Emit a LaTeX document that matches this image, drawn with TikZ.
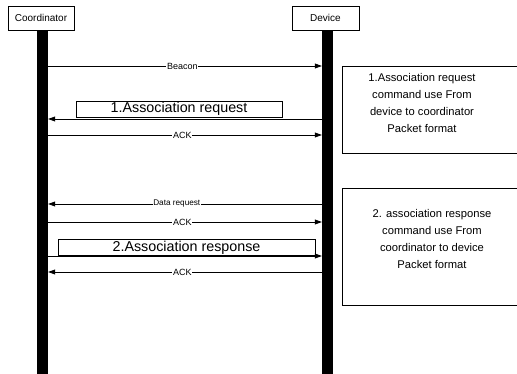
\documentclass[tikz,border=0pt]{standalone}
\usepackage{fontspec}
\setmainfont{Liberation Sans}
\usetikzlibrary{arrows.meta}
\begin{document}
\begin{tikzpicture}[x=1pt,y=-1pt,
  actor/.style={draw,line width=0.9pt,minimum height=24pt,inner sep=0pt,font=\fontsize{10}{11}\selectfont},
  lifebar/.style={fill=black,draw=none,minimum width=11pt,minimum height=344pt,inner sep=0pt,anchor=north},
  msg/.style={line width=0.7pt,-{Triangle[length=7pt,width=5pt]}},
  lbl/.style={fill=white,inner sep=0.6pt,font=\fontsize{9}{10}\selectfont},
  cmdbox/.style={draw,line width=0.8pt,inner sep=0pt,minimum height=16pt,font=\fontsize{14.3}{15}\selectfont},
  note/.style={draw,line width=0.9pt},
  notetext/.style={align=center,font=\fontsize{11.2}{17}\selectfont}]
\useasboundingbox (0,0) rectangle (517,374);
% actors
\node[actor,minimum width=66pt] (coord) at (41,18) {Coordinator};
\node[actor,minimum width=67pt] (dev) at (325.5,18) {Device};
% lifelines
\node[lifebar] (cl) at (42.5,30) {};
\node[lifebar] (dl) at (327.5,30) {};
% message anchor points
\foreach \n/\y in {1/66,2/119,3/135,4/204,5/222,6/256,7/272}{
  \coordinate (c\n) at (cl.east |- 0,\y);
  \coordinate (d\n) at (dl.west |- 0,\y);
}
% messages
\draw[msg] (c1) -- node[lbl,pos=0.49] (beacon) {Beacon} (d1);
\draw[msg] (d2) -- (c2);
\draw[msg] (c3) -- node[lbl,pos=0.49] (ack1) {ACK} (d3);
\draw[msg] (d4) -- node[lbl,pos=0.53,font=\fontsize{8.2}{9}\selectfont] (dreq) {Data request} (c4);
\draw[msg] (c5) -- node[lbl,pos=0.49] (ack2) {ACK} (d5);
\draw[msg] (c6) -- (d6);
\draw[msg] (d7) -- node[lbl,pos=0.51] (ack3) {ACK} (c7);
% command boxes
\node[cmdbox,minimum width=206pt] (req) at (179,109) {1.Association request};
\node[cmdbox,minimum width=257pt] (resp) at (186.5,247.5) {2.Association response};
% notes
\draw[note] (342,66) rectangle (520,153);
\node[notetext] (n1) at (422,103) {1.Association request\\command use From\\device to coordinator\\Packet format};
\draw[note] (342,188) rectangle (520,305);
\node[notetext] (n2) at (432,239) {2. association response\\command use From\\coordinator to device\\Packet format};
\end{tikzpicture}
\end{document}
